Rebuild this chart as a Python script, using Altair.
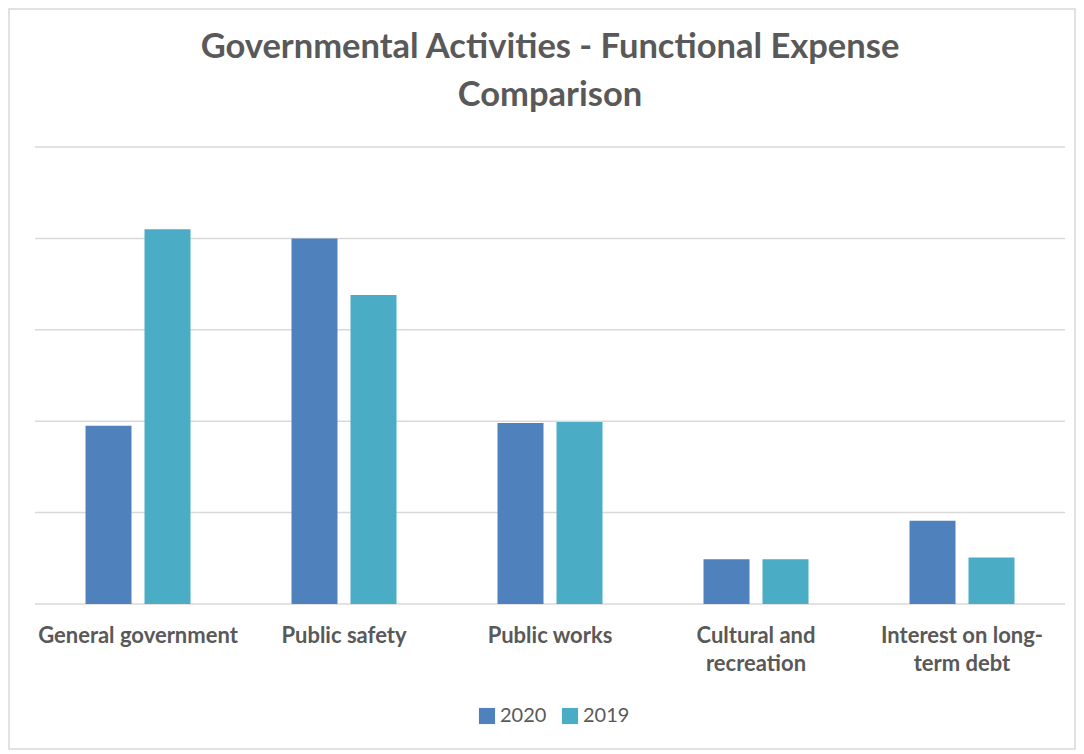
import altair as alt
import pandas as pd

categories = ["General government", "Public safety", "Public works",
              "Cultural and recreation", "Interest on long-term debt"]
values_2020 = [1.95, 4.00, 1.98, 0.49, 0.91]
values_2019 = [4.10, 3.38, 1.99, 0.49, 0.51]
years = ["2020", "2019"]
colors = ["#4F81BD", "#4BACC6"]
grid_values = [0, 1, 2, 3, 4, 5]
title_lines = ["Governmental Activities - Functional Expense", "Comparison"]

rows = []
for c, a, b in zip(categories, values_2020, values_2019):
    rows.append({"category": c, "year": "2020", "value": a})
    rows.append({"category": c, "year": "2019", "value": b})
df = pd.DataFrame(rows)

FONT = "Lato"
GRAY = "#595959"
W, H = 1030, 457

label_expr = ("datum.label == 'Cultural and recreation' ? ['Cultural and', 'recreation'] : "
              "datum.label == 'Interest on long-term debt' ? ['Interest on long-', 'term debt'] : datum.label")

yscale = alt.Scale(domain=[0, 5], nice=False)

border = alt.Chart(pd.DataFrame({"k": [0]})).mark_rect(
    fillOpacity=0, stroke="#d9d9d9", strokeWidth=1.5
).encode(
    x=alt.value(-26), x2=alt.value(W + 10),
    y=alt.value(-138), y2=alt.value(H + 145)
)

grid = alt.Chart(pd.DataFrame({"g": grid_values})).mark_rule(
    color="#d9d9d9", strokeWidth=1.5
).encode(y=alt.Y("g:Q", scale=yscale, axis=None))

t1 = alt.Chart(pd.DataFrame({"t": [title_lines[0]]})).mark_text(
    font=FONT, fontSize=34.5, fontWeight="bold", color=GRAY, baseline="middle", align="center"
).encode(text="t:N", x=alt.value(W / 2), y=alt.value(-99))

t2 = alt.Chart(pd.DataFrame({"t": [title_lines[1]]})).mark_text(
    font=FONT, fontSize=34.5, fontWeight="bold", color=GRAY, baseline="middle", align="center"
).encode(text="t:N", x=alt.value(W / 2), y=alt.value(-51))

bars = alt.Chart(df).mark_bar().encode(
    x=alt.X("category:N", sort=categories, title=None,
            scale=alt.Scale(paddingInner=0, paddingOuter=0),
            axis=alt.Axis(labelAngle=0, labelFont=FONT, labelFontSize=22,
                          labelFontWeight="bold", labelColor=GRAY, labelPadding=31,
                          labelLineHeight=28, labelExpr=label_expr, ticks=False,
                          labelLimit=400, labelOverlap=False,
                          domain=False, grid=False, labelBaseline="middle")),
    xOffset=alt.XOffset("year:N", sort=years,
                        scale=alt.Scale(paddingInner=0.22, paddingOuter=0.856)),
    y=alt.Y("value:Q", scale=yscale, title=None, axis=None),
    color=alt.Color("year:N", sort=years,
                    scale=alt.Scale(domain=years, range=colors),
                    legend=alt.Legend(title=None, orient="none", direction="horizontal",
                                      legendX=442, legendY=559, symbolType="square",
                                      symbolSize=260, symbolStrokeWidth=0,
                                      labelFont=FONT, labelFontSize=20, labelColor=GRAY,
                                      columnPadding=13, labelOffset=3)),
)

chart = alt.layer(border, grid, bars, t1, t2).properties(
    width=W, height=H,
    autosize=alt.AutoSizeParams(type="none"),
    padding={"left": 27, "top": 139, "right": 11, "bottom": 146},
).configure_view(stroke=None)

chart.save("out.html", embed_options={"renderer": "svg", "actions": False})
